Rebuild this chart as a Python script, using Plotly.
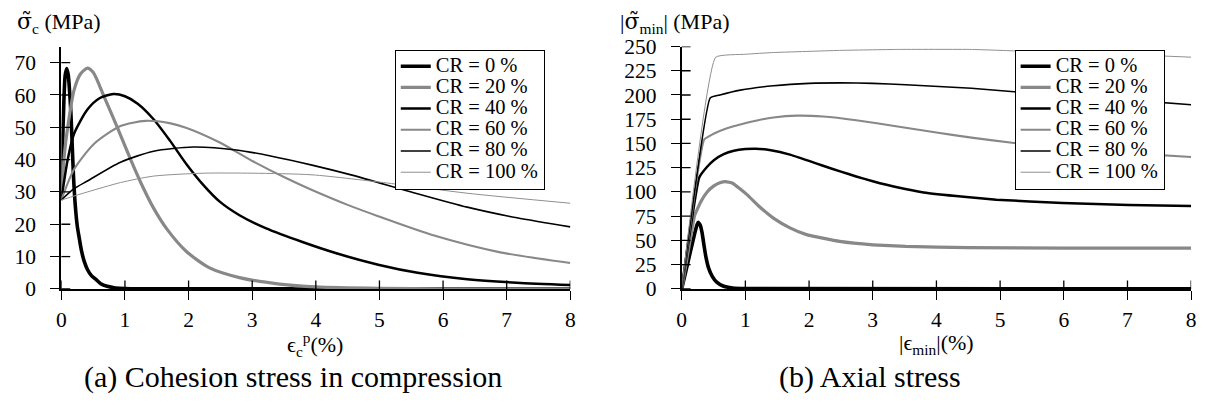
import plotly.graph_objects as go

# ---------------- data: (a) cohesion stress ----------------
labels = ["CR = 0 %", "CR = 20 %", "CR = 40 %", "CR = 60 %", "CR = 80 %", "CR = 100 %"]

a_cr0_x = [0, 0.02, 0.04, 0.06, 0.085, 0.11, 0.13, 0.15, 0.17, 0.19, 0.22, 0.25, 0.28, 0.32, 0.36, 0.41, 0.47, 0.54, 0.62, 0.72, 0.85, 1.0, 1.5, 8]
a_cr0_y = [27.5, 45, 58, 66, 68.2, 66, 61, 54.7, 45, 35.3, 25.6, 19.5, 15.9, 11.5, 8.5, 6, 4.2, 3.0, 1.6, 0.8, 0.3, 0.1, 0, 0]

a_cr20_x = [0, 0.05, 0.1, 0.2, 0.3, 0.41, 0.5, 0.67, 0.88, 1.09, 1.27, 1.45, 1.66, 1.97, 2.33, 2.8, 3.43, 4.0, 5.0, 6.0, 8.0]
a_cr20_y = [27.5, 42, 50, 61.5, 66.5, 68.3, 67, 59.6, 50, 40, 32, 25, 18.5, 11.5, 6.5, 3.5, 1.5, 0.6, 0.15, 0.05, 0]

a_cr40_x = [0, 0.1, 0.2, 0.41, 0.6, 0.82, 1.0, 1.2, 1.45, 1.71, 1.97, 2.23, 2.49, 2.8, 3.22, 3.79, 4.31, 4.98, 5.6, 6.38, 7.16, 8.0]
a_cr40_y = [27.5, 40, 48, 55.5, 59, 60.3, 59.6, 57.3, 52.5, 45.8, 38.5, 32.2, 27, 22.8, 18.7, 14.5, 11.1, 7.5, 5.0, 3.0, 1.9, 1.2]

a_cr60_x = [0, 0.2, 0.52, 0.93, 1.32, 1.7, 1.97, 2.49, 3.01, 3.53, 3.94, 4.5, 4.98, 5.86, 6.9, 8.0]
a_cr60_y = [27.5, 37, 45, 50.4, 52, 51.3, 49.8, 45.3, 39.5, 34.3, 30.6, 26, 22.5, 16.5, 11.3, 8]

a_cr80_x = [0, 0.2, 0.41, 0.93, 1.45, 2.07, 2.75, 3.27, 3.94, 4.57, 5.5, 6.38, 7.16, 8.0]
a_cr80_y = [27.5, 31, 33.4, 39.2, 42.6, 43.9, 43, 41.2, 38.3, 35.2, 30.0, 25.3, 22.0, 19.2]

a_cr100_x = [0, 0.41, 0.93, 1.45, 2.23, 3.01, 3.94, 5.19, 6.38, 8.0]
a_cr100_y = [27.5, 30, 32.9, 34.9, 35.8, 35.8, 35.3, 32.6, 29.6, 26.5]

# ---------------- data: (b) axial stress ----------------
b_cr0_x = [0, 0.05, 0.1, 0.15, 0.2, 0.24, 0.26, 0.29, 0.32, 0.35, 0.38, 0.42, 0.48, 0.55, 0.65, 0.8, 1.0, 8.0]
b_cr0_y = [0, 14, 28, 42, 56, 66, 68.6, 66, 58, 45, 33, 22, 13, 7, 3, 1, 0.3, 0]

b_cr20_x = [0, 0.1, 0.2, 0.3, 0.4, 0.5, 0.6, 0.69, 0.8, 1.03, 1.2, 1.44, 1.7, 1.96, 2.48, 3.0, 3.52, 4.5, 6.0, 8.0]
b_cr20_y = [0, 38, 75, 90, 100, 106, 109.5, 110.6, 109, 97, 86, 73, 63, 56, 49, 45.5, 43.8, 42.6, 42.1, 42]

b_cr40_x = [0, 0.275, 0.4, 0.51, 0.66, 0.82, 1.0, 1.16, 1.4, 1.7, 2.0, 2.22, 2.5, 2.74, 3.0, 3.4, 3.8, 4.43, 4.94, 5.98, 7.02, 8.0]
b_cr40_y = [0, 114.8, 126, 133, 139, 142.5, 144.2, 144.6, 143, 138.5, 132, 127, 121, 116, 111, 104.5, 99.5, 95, 92, 88.7, 86.6, 85.5]

b_cr60_x = [0, 0.353, 0.5, 0.7, 0.92, 1.2, 1.44, 1.81, 2.22, 2.74, 3.39, 4.0, 4.55, 5.22, 6.0, 7.0, 8.0]
b_cr60_y = [0, 154, 160, 165.5, 169.6, 174, 176.8, 178.7, 177.8, 174, 167.5, 161.3, 156, 150.5, 145, 140, 136]

b_cr80_x = [0, 0.447, 0.6, 0.92, 1.44, 2.0, 2.5, 3.0, 3.52, 4.55, 5.22, 6.0, 7.0, 8.0]
b_cr80_y = [0, 197, 200, 205, 209.5, 212, 212.5, 212, 210.5, 206.9, 203.4, 199, 195, 190]

b_cr100_x = [0, 0.535, 1.0, 1.44, 2.0, 2.48, 3.39, 4.55, 5.23, 6.5, 8.0]
b_cr100_y = [0, 239, 242, 243.8, 245, 246, 247, 247, 245.5, 243, 239]

a_x_ticks = [0, 1, 2, 3, 4, 5, 6, 7, 8]
a_y_ticks = [0, 10, 20, 30, 40, 50, 60, 70]
b_x_ticks = [0, 1, 2, 3, 4, 5, 6, 7, 8]
b_y_ticks = [0, 25, 50, 75, 100, 125, 150, 175, 200, 225, 250]

# ---------------- styling ----------------
colors = ["#000000", "#888888", "#000000", "#888888", "#000000", "#8f8f8f"]
widths = [3.6, 3.2, 2.5, 2.1, 1.6, 1.0]
FONT = "Liberation Serif, Times New Roman, serif"
W, H = 1216, 414
TICKLEN = 9

a_series = [(a_cr0_x, a_cr0_y), (a_cr20_x, a_cr20_y), (a_cr40_x, a_cr40_y),
            (a_cr60_x, a_cr60_y), (a_cr80_x, a_cr80_y), (a_cr100_x, a_cr100_y)]
b_series = [(b_cr0_x, b_cr0_y), (b_cr20_x, b_cr20_y), (b_cr40_x, b_cr40_y),
            (b_cr60_x, b_cr60_y), (b_cr80_x, b_cr80_y), (b_cr100_x, b_cr100_y)]


def leg_name(s):
    return '<span style="font-size:20.5px">' + s + '</span>'


fig = go.Figure()
for i, (xs, ys) in enumerate(a_series):
    fig.add_trace(go.Scatter(x=xs, y=ys, mode="lines", name=leg_name(labels[i]),
                             line=dict(color=colors[i], width=widths[i], shape="spline", smoothing=0.7),
                             xaxis="x", yaxis="y", legend="legend"))
for i, (xs, ys) in enumerate(b_series):
    fig.add_trace(go.Scatter(x=xs, y=ys, mode="lines", name=leg_name(labels[i]),
                             line=dict(color=colors[i], width=widths[i], shape="spline", smoothing=0.35),
                             xaxis="x2", yaxis="y2", legend="legend2"))

ydom = [(H - 295) / H, (H - 37.7) / H]
xdom_a = [56.8 / W, 570 / W]
xdom_b = [682.3 / W, 1196 / W]
plot_h = (ydom[1] - ydom[0]) * H
plot_w_a = (xdom_a[1] - xdom_a[0]) * W
plot_w_b = (xdom_b[1] - xdom_b[0]) * W

tickfont = dict(family=FONT, size=21.5, color="black")
common = dict(showgrid=False, zeroline=False, showline=True, linecolor="black", linewidth=2,
              ticks="outside", ticklen=TICKLEN, tickwidth=1.3, tickcolor="black", tickfont=tickfont)

# inner half of the crossing ticks (the outer half is the axis' own tick)
shapes = []
for xr, yr, xt, yt, pw in [("x", "y", a_x_ticks, a_y_ticks, plot_w_a), ("x2", "y2", b_x_ticks, b_y_ticks, plot_w_b)]:
    for v in xt:
        shapes.append(dict(type="line", xref=xr, yref=yr + " domain", x0=v, x1=v,
                           y0=0, y1=TICKLEN / plot_h, layer="above",
                           line=dict(color="black", width=1.3)))
    for v in yt:
        shapes.append(dict(type="line", xref=xr + " domain", yref=yr, y0=v, y1=v,
                           x0=0, x1=TICKLEN / pw, layer="above",
                           line=dict(color="black", width=1.3)))

fig.update_layout(
    width=W, height=H, margin=dict(l=0, r=0, t=0, b=0),
    paper_bgcolor="white", plot_bgcolor="white",
    font=dict(family=FONT, color="black"),
    xaxis=dict(domain=xdom_a, range=[0, 8], anchor="y", tickvals=a_x_ticks, ticklabelstandoff=1, **common),
    yaxis=dict(domain=ydom, range=[0, 75], anchor="x", tickvals=a_y_ticks, ticklabelstandoff=10, **common),
    xaxis2=dict(domain=xdom_b, range=[0, 8], anchor="y2", tickvals=b_x_ticks, ticklabelstandoff=1, **common),
    yaxis2=dict(domain=ydom, range=[0, 250], anchor="x2", tickvals=b_y_ticks, ticklabelstandoff=10, **common),
    legend=dict(x=393 / W, y=1 - 41 / H, xanchor="left", yanchor="top",
                bordercolor="black", borderwidth=1, bgcolor="white",
                font=dict(family=FONT, size=14, color="black"), tracegroupgap=0),
    legend2=dict(x=1018 / W, y=1 - 41 / H, xanchor="left", yanchor="top",
                 bordercolor="black", borderwidth=1, bgcolor="white",
                 font=dict(family=FONT, size=14, color="black"), tracegroupgap=0),
    showlegend=True,
    shapes=shapes,
)

SIG = '<span style="font-family:DejaVu Serif">σ̃</span>'
ann_font = dict(family=FONT, size=22, color="black")
cap_font = dict(family=FONT, size=30, color="black")
annotations = [
    dict(text=SIG + "<sub>c</sub> (MPa)", x=10 / W, y=1 - 13 / H, xanchor="left", yanchor="middle"),
    dict(text="|" + SIG + "<sub>min</sub>| (MPa)", x=618 / W, y=1 - 13 / H, xanchor="left", yanchor="middle"),
    dict(text="ϵ<sub>c</sub><sup>p</sup>(%)", x=313 / W, y=1 - 354 / H, xanchor="center", yanchor="middle"),
    dict(text="|ϵ<sub>min</sub>|(%)", x=939 / W, y=1 - 354 / H, xanchor="center", yanchor="middle"),
    dict(text="(a) Cohesion stress in compression", x=290 / W, y=1 - 388 / H, xanchor="center",
         yanchor="middle", font=cap_font),
    dict(text="(b) Axial stress", x=872 / W, y=1 - 388 / H, xanchor="center",
         yanchor="middle", font=cap_font),
]
for a in annotations:
    a.setdefault("font", ann_font)
    a.update(xref="paper", yref="paper", showarrow=False)
fig.update_layout(annotations=annotations)

fig.write_html("out.html")
